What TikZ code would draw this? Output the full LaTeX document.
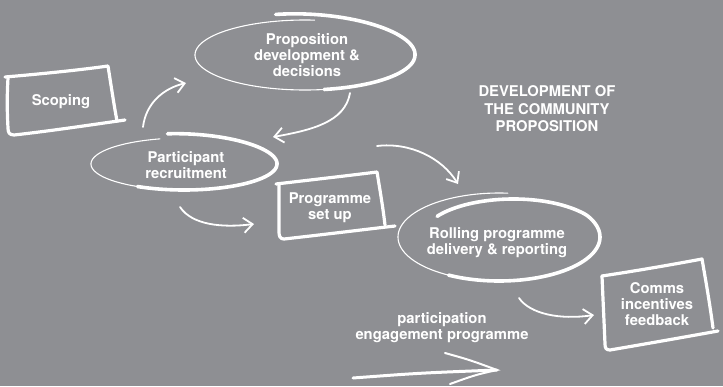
\documentclass[tikz,border=0pt]{standalone}
\usepackage{fontspec}
\setmainfont{TeX Gyre Heros}
\usetikzlibrary{arrows.meta}
\definecolor{bg}{RGB}{142,143,147}
\begin{document}
\begin{tikzpicture}[x=1pt,y=-1pt,
  lbl/.style={text=white,font=\bfseries\fontsize{14.8}{16}\selectfont,align=center,inner sep=0pt},
  box/.style={draw=white,line width=3.2pt,line cap=round,line join=round},
  thinring/.style={draw=white,line width=1.1pt,line cap=round},
  thickring/.style={draw=white,line width=3.6pt,line cap=round},
  flow/.style={draw=white,line width=1.8pt,line cap=round,-{Straight Barb[length=9pt,width=15pt,line width=1.8pt]}},
]
\fill[bg] (0,0) rectangle (723,386);
\useasboundingbox (0,0) rectangle (723,386);

% --- Scoping box
\draw[box] (5,77) .. controls (40,74) and (80,70) .. (108,66) .. controls (111,85) and (114,105) .. (117,121);
\draw[box] (125,120) .. controls (90,125) and (50,131) .. (14,135) .. controls (9,135) and (8,132) .. (8,128) .. controls (7,110) and (7,95) .. (8,78);
\node[lbl] (scop) at (61,102) {Scoping};

% --- Proposition ellipse (spiral stroke)
\draw[thinring] plot[domain=-85:-285,samples=80,smooth] ({305+110*cos(\x)},{55+35*sin(\x)});
\draw[thickring] plot[domain=80:-105,samples=80,smooth]
  ({305+110*(1+0.03*max(0,-\x)/105)*cos(\x)},{55+35*(1+0.2*max(0,-\x)/105)*sin(\x)});
\node[lbl] (prop) at (307,55) {Proposition\\development \&\\decisions};

% --- Participant ellipse
\draw[thinring] plot[domain=-105:-245,samples=60,smooth] ({184+93*cos(\x)},{164+26*sin(\x)});
\draw[thickring] plot[domain=120:-100,samples=80,smooth]
  ({184+93*(1+0.02*max(0,-\x)/100)*cos(\x)},{164+26*(1+0.18*max(0,-\x)/100)*sin(\x)});
\node[lbl] (part) at (186,165) {Participant\\recruitment};

% --- Programme set up box
\draw[box] (276,184) .. controls (310,180) and (345,176) .. (377,172) .. controls (380,190) and (383,208) .. (385,225);
\draw[box] (395,226) .. controls (360,230) and (320,235) .. (284,239) .. controls (280,239) and (279,236) .. (279,232) .. controls (279,215) and (279,200) .. (279,184);
\node[lbl] (prog) at (330,208) {Programme\\set up};

% --- Rolling ellipse
\draw[thinring] plot[domain=-85:-245,samples=70,smooth] ({499+101*cos(\x)},{237+44*sin(\x)});
\draw[thickring] plot[domain=120:-140,samples=90,smooth]
  ({499+101*(1-0.2*max(0,-\x-30)/110)*cos(\x)},{237+44*(1-0.27*max(0,-\x-30)/110)*sin(\x)});
\node[lbl] (roll) at (497,243) {Rolling programme\\delivery \& reporting};

% --- Comms box
\draw[box] (602,276) .. controls (635,271) and (670,265) .. (702,259) .. controls (706,282) and (710,305) .. (713,328);
\draw[box] (718,331) .. controls (685,337) and (645,344) .. (610,350) .. controls (606,350) and (605,348) .. (605,344) .. controls (604,320) and (603,300) .. (602,276);
\node[lbl] (comm) at (657,304) {Comms\\incentives\\feedback};

% --- free texts
\node[lbl] (part2) at (442,328) {participation\\engagement programme};
\node[lbl,font=\bfseries\fontsize{14.8}{17.5}\selectfont] (title) at (547,109) {DEVELOPMENT OF\\THE COMMUNITY\\PROPOSITION};

% --- arrow end points
\coordinate (a1s) at (143,127); \coordinate (a1e) at (186,83);
\coordinate (a2s) at (350,93);  \coordinate (a2e) at (273,137);
\coordinate (a3s) at (180,207); \coordinate (a3e) at (254,224);
\coordinate (a4s) at (377,146); \coordinate (a4e) at (458,184);
\coordinate (a5s) at (519,298); \coordinate (a5e) at (594,315);
\coordinate (bs) at (353,378);  \coordinate (be) at (497,370);
\coordinate (bb1) at (445,353); \coordinate (bb2) at (450,384);

\draw[flow] (a1s) .. controls (146,102) and (165,88) .. (a1e);
\draw[flow] (a2s) .. controls (345,122) and (312,130) .. (a2e);
\draw[flow] (a3s) .. controls (192,225) and (222,228) .. (a3e);
\draw[flow] (a4s) .. controls (410,142) and (442,158) .. (a4e);
\draw[flow] (a5s) .. controls (530,314) and (560,320) .. (a5e);

\draw[draw=white,line width=3pt,line cap=round] (bs) .. controls (420,373) .. (be);
\draw[draw=white,line width=2pt,line cap=round] (bb1) .. controls (470,360) .. (be) .. controls (475,375) .. (bb2);
\end{tikzpicture}
\end{document}
